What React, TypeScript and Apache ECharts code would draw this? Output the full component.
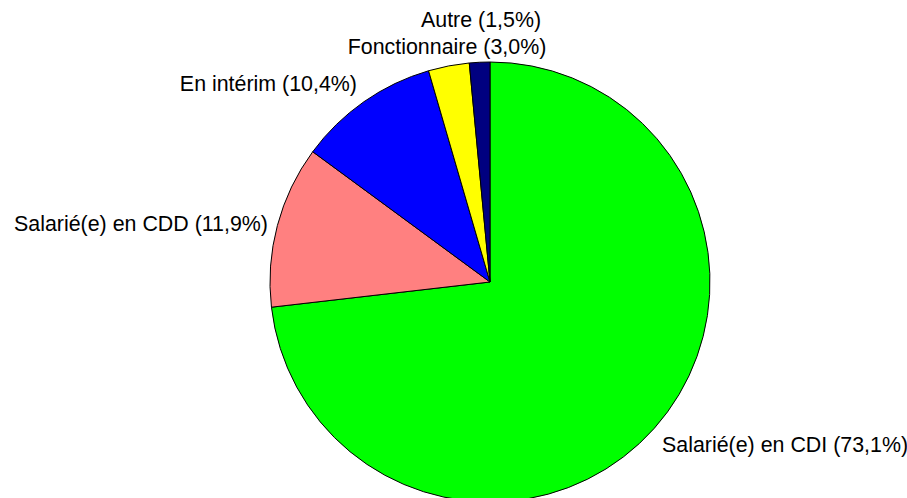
import React, { useEffect, useRef } from "react";
import * as echarts from "echarts";

const categories = [
  "Salarié(e) en CDI",
  "Salarié(e) en CDD",
  "En intérim",
  "Fonctionnaire",
  "Autre",
];
const shares = [73.1, 11.9, 10.4, 3.0, 1.5];
const sliceColors = ["#00FF00", "#FF8080", "#0000FF", "#FFFF00", "#000080"];

// label anchor points (pixels) and alignment, Excel-style placement
const labelAnchors: { x: number; y: number; align: string }[] = [
  { x: 662, y: 445, align: "left" },
  { x: 268, y: 224, align: "right" },
  { x: 357, y: 84, align: "right" },
  { x: 447, y: 47, align: "center" },
  { x: 481, y: 20, align: "center" },
];

export default function App() {
  const ref = useRef<HTMLDivElement>(null);
  useEffect(() => {
    if (!ref.current) return;
    const chart = echarts.init(ref.current, undefined, { renderer: "svg" });
    chart.setOption({
      animation: false,
      backgroundColor: "#ffffff",
      series: [
        {
          type: "pie",
          center: [490, 282],
          radius: 220,
          startAngle: 90,
          clockwise: true,
          avoidLabelOverlap: false,
          data: categories.map((name, i) => ({
            name,
            value: shares[i],
            itemStyle: { color: sliceColors[i] },
          })),
          itemStyle: { borderColor: "#000000", borderWidth: 1 },
          emphasis: { disabled: true },
          label: {
            show: true,
            position: "outside",
            color: "#000000",
            fontFamily: "Liberation Sans, Arial, sans-serif",
            fontSize: 21.4,
            formatter: (p: any) =>
              `${p.name} (${Number(p.value).toFixed(1).replace(".", ",")}%)`,
          },
          labelLine: { show: false },
          labelLayout: (params: any) => {
            const a = labelAnchors[params.dataIndex];
            return {
              x: a.x,
              y: a.y,
              align: a.align,
              verticalAlign: "middle",
            };
          },
        },
      ],
    });
    return () => chart.dispose();
  }, []);
  return (
    <div
      ref={ref}
      style={{
        position: "absolute",
        left: 0,
        top: 0,
        width: 907,
        height: 498,
        background: "#ffffff",
      }}
    />
  );
}
